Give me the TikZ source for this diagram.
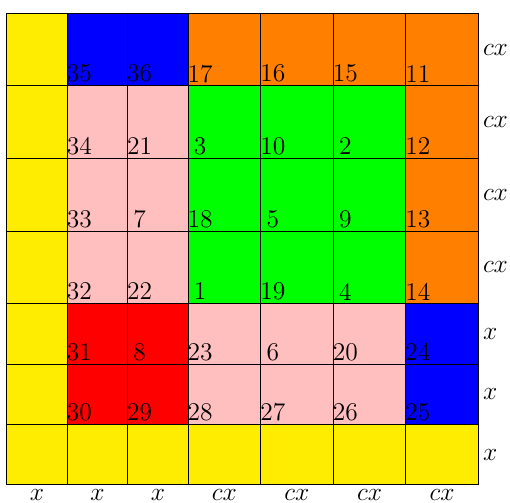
\documentclass[tikz,border=0pt]{standalone}
\usepackage{tikz}
\usepackage{xcolor}

\definecolor{cellyellow}{RGB}{255,237,0}
\definecolor{cellblue}{RGB}{0,0,255}
\definecolor{cellorange}{RGB}{255,128,0}
\definecolor{cellgreen}{RGB}{0,255,0}
\definecolor{cellpink}{RGB}{255,191,191}
\definecolor{cellred}{RGB}{255,0,0}

\begin{document}
\begin{tikzpicture}[
  	x=1cm,
  	y=1cm,
  	font=\large,
  	gridline/.style={draw=black,line width=0.4pt},
  	num/.style={inner sep=0pt,text=black},
  	sidelabel/.style={anchor=west,inner sep=2pt},
  	footlabel/.style={anchor=north,inner sep=2pt}
  	]
  	\useasboundingbox (-0.111,-0.293) rectangle (8.324,8.02);
  	
  	% Coloured blocks
  	\fill[cellyellow] (0,0) rectangle (1,7.8);
  	\fill[cellyellow] (0,0) rectangle (7.8,1);
  	\fill[cellblue] (1,6.6) rectangle (3,7.8);
  	\fill[cellblue] (6.6,1) rectangle (7.8,3);
  	\fill[cellorange] (3,6.6) rectangle (7.8,7.8);
  	\fill[cellorange] (6.6,3) rectangle (7.8,6.6);
  	\fill[cellgreen] (3,3) rectangle (6.6,6.6);
  	\fill[cellpink] (1,3) rectangle (3,6.6);
  	\fill[cellpink] (3,1) rectangle (6.6,3);
  	\fill[cellred] (1,1) rectangle (3,3);
  	
  	% Grid lines
  	\foreach \p in {0,1,2,3,4.2,5.4,6.6,7.8} {
  		\draw[gridline] (\p,0) -- (\p,7.8);
  		\draw[gridline] (0,\p) -- (7.8,\p);
  	}
  	
  	% Cell numbers
  	\foreach \y/\a/\b/\c/\d/\e/\f in {6.6/35/36/17/16/15/11,
  		5.4/34/21/3/10/2/12,
  		4.2/33/7/18/5/9/13,
  		3/32/22/1/19/4/14,
  		2/31/8/23/6/20/24,
  		1/30/29/28/27/26/25} {
  		\foreach \x/\n in {1/\a,2/\b,3/\c,4.2/\d,5.4/\e,6.6/\f} {
  			\node[num] (n\n) at (\x+0.2,\y+0.2) {\n};
  		}
  	}
  	
  	% Side lengths
  	\foreach \y/\t [count=\i] in {7.2/cx,6.0/cx,4.8/cx,3.6/cx,2.5/x,1.5/x,0.5/x} {
  		\node[sidelabel] (side\i) at (7.8,\y) {$\t$};
  	}
  	\foreach \x/\t [count=\i] in {0.5/x,1.5/x,2.5/x,3.6/cx,4.8/cx,6.0/cx,7.2/cx} {
  		\node[footlabel] (foot\i) at (\x,0) {$\t$};
  	}
\end{tikzpicture}
\end{document}
